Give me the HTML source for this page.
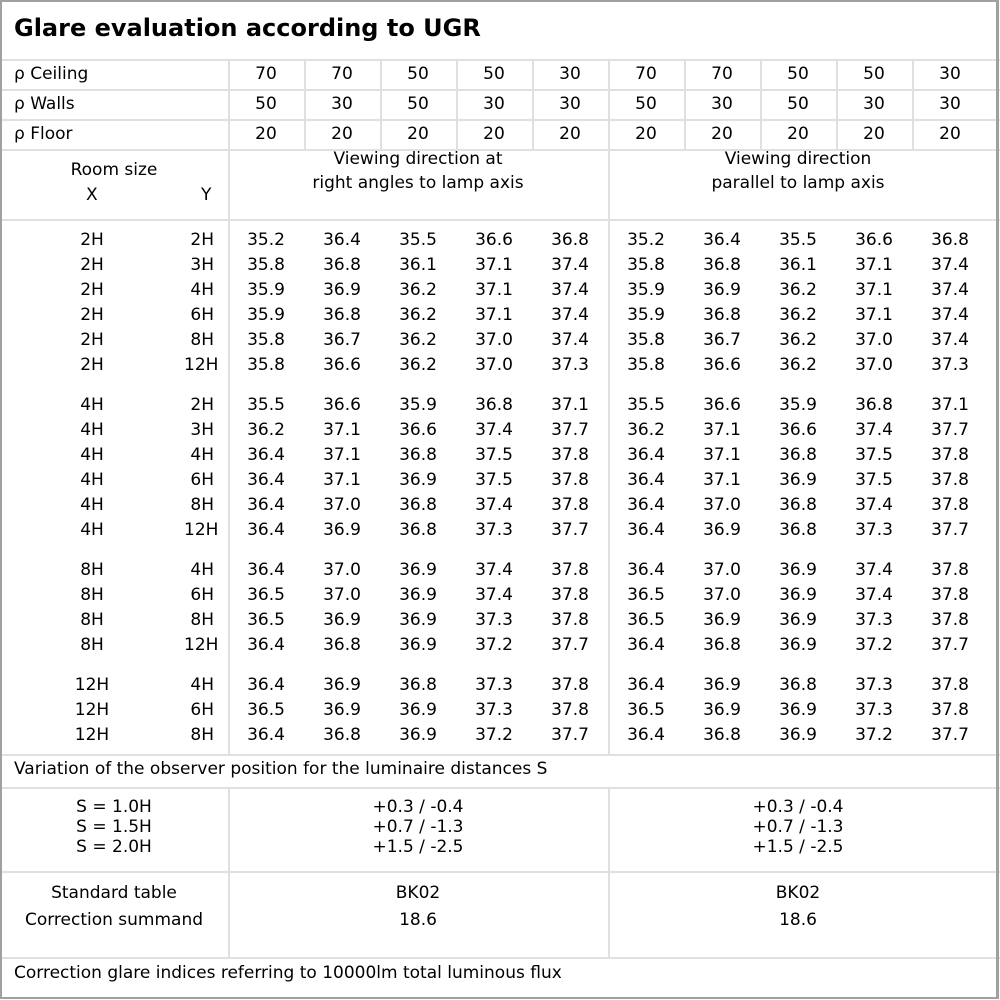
<!DOCTYPE html>
<html><head><meta charset="utf-8"><style>
*{margin:0;padding:0;box-sizing:border-box}
body{width:1000px;height:1000px;background:#fff;font-family:"DejaVu Sans","Liberation Sans",sans-serif;font-size:17px;color:#000;position:relative;overflow:hidden}
.b{position:absolute;left:0;top:0;width:999px;height:999px;border:2px solid #a0a0a0;border-right-width:3px}
.h{position:absolute;left:0;width:1000px;height:2px;background:#e0e0e0}
.v{position:absolute;width:2px;background:#e0e0e0}
.t{position:absolute;white-space:nowrap}
.r{position:absolute;left:0;width:1000px;height:25px;line-height:25px;display:flex;white-space:nowrap}
.r span{display:block;text-align:center;width:76px}
.r .x{width:184px}
.r .y{width:30px;text-align:right}
.r .s{width:14px}
.c{position:absolute;text-align:center;line-height:24px}
</style></head><body>
<div class="t" style="left:14px;top:14px;font-size:24px;font-weight:bold">Glare evaluation according to UGR</div>
<div class="h" style="top:59px"></div>
<div class="h" style="top:89px"></div>
<div class="h" style="top:119px"></div>
<div class="h" style="top:149px"></div>
<div class="h" style="top:219px"></div>
<div class="h" style="top:754px"></div>
<div class="h" style="top:787px"></div>
<div class="h" style="top:871px"></div>
<div class="h" style="top:957px"></div>
<div class="v" style="left:228px;top:60px;height:695px"></div>
<div class="v" style="left:608px;top:60px;height:695px"></div>
<div class="v" style="left:228px;top:788px;height:170px"></div>
<div class="v" style="left:608px;top:788px;height:170px"></div>
<div class="v" style="left:304px;top:60px;height:90px"></div>
<div class="v" style="left:380px;top:60px;height:90px"></div>
<div class="v" style="left:456px;top:60px;height:90px"></div>
<div class="v" style="left:532px;top:60px;height:90px"></div>
<div class="v" style="left:684px;top:60px;height:90px"></div>
<div class="v" style="left:760px;top:60px;height:90px"></div>
<div class="v" style="left:836px;top:60px;height:90px"></div>
<div class="v" style="left:912px;top:60px;height:90px"></div>
<div class="b"></div>

<div class="t" style="left:14px;top:62px;line-height:25px">ρ Ceiling</div>
<div class="t" style="left:14px;top:92px;line-height:25px">ρ Walls</div>
<div class="t" style="left:14px;top:122px;line-height:25px">ρ Floor</div>
<div class="r" style="top:62px"><span class="x"></span><span class="y"></span><span class="s"></span><span>70</span><span>70</span><span>50</span><span>50</span><span>30</span><span>70</span><span>70</span><span>50</span><span>50</span><span>30</span></div>
<div class="r" style="top:92px"><span class="x"></span><span class="y"></span><span class="s"></span><span>50</span><span>30</span><span>50</span><span>30</span><span>30</span><span>50</span><span>30</span><span>50</span><span>30</span><span>30</span></div>
<div class="r" style="top:122px"><span class="x"></span><span class="y"></span><span class="s"></span><span>20</span><span>20</span><span>20</span><span>20</span><span>20</span><span>20</span><span>20</span><span>20</span><span>20</span><span>20</span></div>

<div class="c" style="left:0;width:228px;top:158px">Room size</div>
<div class="t" style="left:86px;top:183px;line-height:24px">X</div>
<div class="t" style="left:201px;top:183px;line-height:24px">Y</div>
<div class="c" style="left:228px;width:380px;top:147px">Viewing direction at<br>right angles to lamp axis</div>
<div class="c" style="left:608px;width:380px;top:147px">Viewing direction<br>parallel to lamp axis</div>

<div class="r" style="top:228px"><span class="x">2H</span><span class="y">2H</span><span class="s"></span><span>35.2</span><span>36.4</span><span>35.5</span><span>36.6</span><span>36.8</span><span>35.2</span><span>36.4</span><span>35.5</span><span>36.6</span><span>36.8</span></div>
<div class="r" style="top:253px"><span class="x">2H</span><span class="y">3H</span><span class="s"></span><span>35.8</span><span>36.8</span><span>36.1</span><span>37.1</span><span>37.4</span><span>35.8</span><span>36.8</span><span>36.1</span><span>37.1</span><span>37.4</span></div>
<div class="r" style="top:278px"><span class="x">2H</span><span class="y">4H</span><span class="s"></span><span>35.9</span><span>36.9</span><span>36.2</span><span>37.1</span><span>37.4</span><span>35.9</span><span>36.9</span><span>36.2</span><span>37.1</span><span>37.4</span></div>
<div class="r" style="top:303px"><span class="x">2H</span><span class="y">6H</span><span class="s"></span><span>35.9</span><span>36.8</span><span>36.2</span><span>37.1</span><span>37.4</span><span>35.9</span><span>36.8</span><span>36.2</span><span>37.1</span><span>37.4</span></div>
<div class="r" style="top:328px"><span class="x">2H</span><span class="y">8H</span><span class="s"></span><span>35.8</span><span>36.7</span><span>36.2</span><span>37.0</span><span>37.4</span><span>35.8</span><span>36.7</span><span>36.2</span><span>37.0</span><span>37.4</span></div>
<div class="r" style="top:353px"><span class="x">2H</span><span class="y">12H</span><span class="s"></span><span>35.8</span><span>36.6</span><span>36.2</span><span>37.0</span><span>37.3</span><span>35.8</span><span>36.6</span><span>36.2</span><span>37.0</span><span>37.3</span></div>

<div class="r" style="top:393px"><span class="x">4H</span><span class="y">2H</span><span class="s"></span><span>35.5</span><span>36.6</span><span>35.9</span><span>36.8</span><span>37.1</span><span>35.5</span><span>36.6</span><span>35.9</span><span>36.8</span><span>37.1</span></div>
<div class="r" style="top:418px"><span class="x">4H</span><span class="y">3H</span><span class="s"></span><span>36.2</span><span>37.1</span><span>36.6</span><span>37.4</span><span>37.7</span><span>36.2</span><span>37.1</span><span>36.6</span><span>37.4</span><span>37.7</span></div>
<div class="r" style="top:443px"><span class="x">4H</span><span class="y">4H</span><span class="s"></span><span>36.4</span><span>37.1</span><span>36.8</span><span>37.5</span><span>37.8</span><span>36.4</span><span>37.1</span><span>36.8</span><span>37.5</span><span>37.8</span></div>
<div class="r" style="top:468px"><span class="x">4H</span><span class="y">6H</span><span class="s"></span><span>36.4</span><span>37.1</span><span>36.9</span><span>37.5</span><span>37.8</span><span>36.4</span><span>37.1</span><span>36.9</span><span>37.5</span><span>37.8</span></div>
<div class="r" style="top:493px"><span class="x">4H</span><span class="y">8H</span><span class="s"></span><span>36.4</span><span>37.0</span><span>36.8</span><span>37.4</span><span>37.8</span><span>36.4</span><span>37.0</span><span>36.8</span><span>37.4</span><span>37.8</span></div>
<div class="r" style="top:518px"><span class="x">4H</span><span class="y">12H</span><span class="s"></span><span>36.4</span><span>36.9</span><span>36.8</span><span>37.3</span><span>37.7</span><span>36.4</span><span>36.9</span><span>36.8</span><span>37.3</span><span>37.7</span></div>

<div class="r" style="top:558px"><span class="x">8H</span><span class="y">4H</span><span class="s"></span><span>36.4</span><span>37.0</span><span>36.9</span><span>37.4</span><span>37.8</span><span>36.4</span><span>37.0</span><span>36.9</span><span>37.4</span><span>37.8</span></div>
<div class="r" style="top:583px"><span class="x">8H</span><span class="y">6H</span><span class="s"></span><span>36.5</span><span>37.0</span><span>36.9</span><span>37.4</span><span>37.8</span><span>36.5</span><span>37.0</span><span>36.9</span><span>37.4</span><span>37.8</span></div>
<div class="r" style="top:608px"><span class="x">8H</span><span class="y">8H</span><span class="s"></span><span>36.5</span><span>36.9</span><span>36.9</span><span>37.3</span><span>37.8</span><span>36.5</span><span>36.9</span><span>36.9</span><span>37.3</span><span>37.8</span></div>
<div class="r" style="top:633px"><span class="x">8H</span><span class="y">12H</span><span class="s"></span><span>36.4</span><span>36.8</span><span>36.9</span><span>37.2</span><span>37.7</span><span>36.4</span><span>36.8</span><span>36.9</span><span>37.2</span><span>37.7</span></div>

<div class="r" style="top:673px"><span class="x">12H</span><span class="y">4H</span><span class="s"></span><span>36.4</span><span>36.9</span><span>36.8</span><span>37.3</span><span>37.8</span><span>36.4</span><span>36.9</span><span>36.8</span><span>37.3</span><span>37.8</span></div>
<div class="r" style="top:698px"><span class="x">12H</span><span class="y">6H</span><span class="s"></span><span>36.5</span><span>36.9</span><span>36.9</span><span>37.3</span><span>37.8</span><span>36.5</span><span>36.9</span><span>36.9</span><span>37.3</span><span>37.8</span></div>
<div class="r" style="top:723px"><span class="x">12H</span><span class="y">8H</span><span class="s"></span><span>36.4</span><span>36.8</span><span>36.9</span><span>37.2</span><span>37.7</span><span>36.4</span><span>36.8</span><span>36.9</span><span>37.2</span><span>37.7</span></div>

<div class="t" style="left:14px;top:757px;line-height:24px">Variation of the observer position for the luminaire distances S</div>
<div class="c" style="left:0;width:228px;top:797px;line-height:20px">S = 1.0H<br>S = 1.5H<br>S = 2.0H</div>
<div class="c" style="left:228px;width:380px;top:797px;line-height:20px">+0.3 / -0.4<br>+0.7 / -1.3<br>+1.5 / -2.5</div>
<div class="c" style="left:608px;width:380px;top:797px;line-height:20px">+0.3 / -0.4<br>+0.7 / -1.3<br>+1.5 / -2.5</div>
<div class="c" style="left:0;width:228px;top:880px;line-height:27px">Standard table<br>Correction summand</div>
<div class="c" style="left:228px;width:380px;top:880px;line-height:27px">BK02<br>18.6</div>
<div class="c" style="left:608px;width:380px;top:880px;line-height:27px">BK02<br>18.6</div>
<div class="t" style="left:14px;top:961px;line-height:24px">Correction glare indices referring to 10000lm total luminous flux</div>
</body></html>
